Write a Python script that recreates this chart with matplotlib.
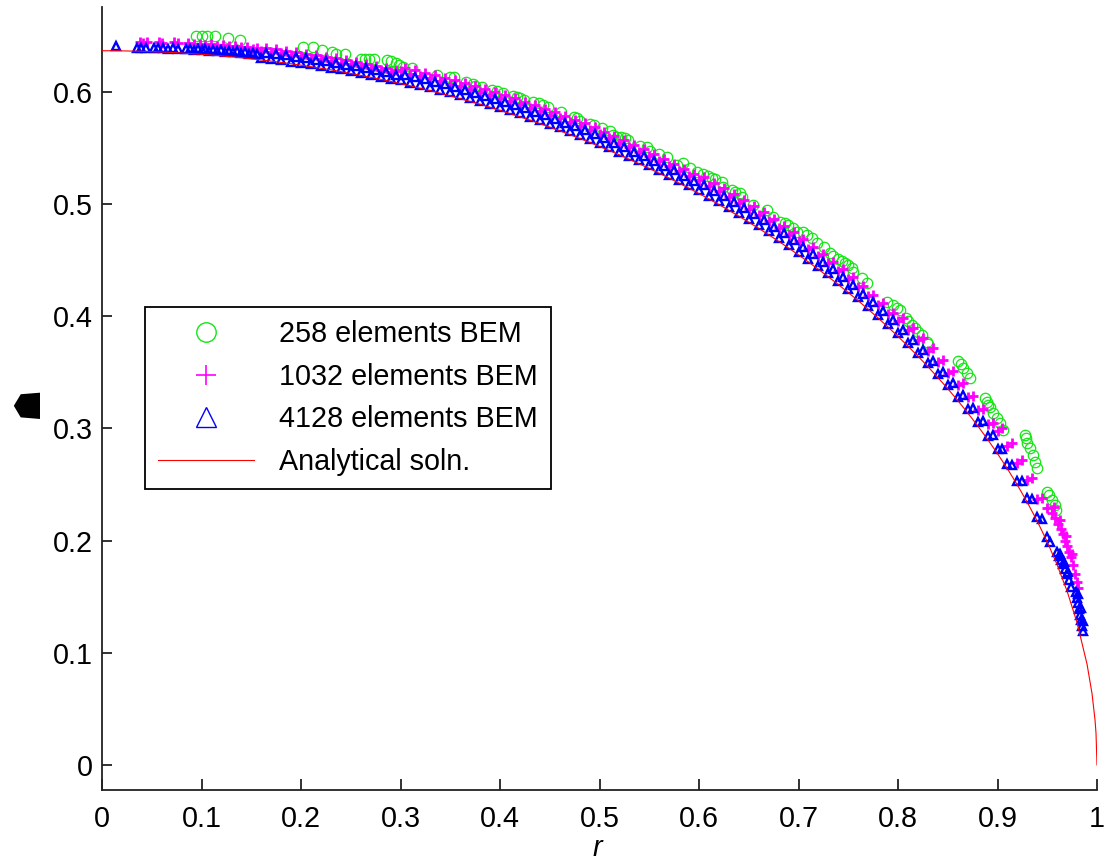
import matplotlib
matplotlib.use("Agg")
import matplotlib.pyplot as plt
from matplotlib.lines import Line2D

plt.rcParams['font.family'] = ['Liberation Sans', 'DejaVu Sans']

# ---------------- data ----------------
# analytical crack-opening profile
exact_r = [0.00, 0.01, 0.02, 0.03, 0.04, 0.05, 0.06, 0.07, 0.08, 0.09,
           0.10, 0.11, 0.12, 0.13, 0.14, 0.15, 0.16, 0.17, 0.18, 0.19,
           0.20, 0.21, 0.22, 0.23, 0.24, 0.25, 0.26, 0.27, 0.28, 0.29,
           0.30, 0.31, 0.32, 0.33, 0.34, 0.35, 0.36, 0.37, 0.38, 0.39,
           0.40, 0.41, 0.42, 0.43, 0.44, 0.45, 0.46, 0.47, 0.48, 0.49,
           0.50, 0.51, 0.52, 0.53, 0.54, 0.55, 0.56, 0.57, 0.58, 0.59,
           0.60, 0.61, 0.62, 0.63, 0.64, 0.65, 0.66, 0.67, 0.68, 0.69,
           0.70, 0.71, 0.72, 0.73, 0.74, 0.75, 0.76, 0.77, 0.78, 0.79,
           0.80, 0.81, 0.82, 0.83, 0.84, 0.85, 0.86, 0.87, 0.88, 0.89,
           0.90, 0.91, 0.92, 0.93, 0.94, 0.95, 0.96, 0.97, 0.98, 0.99,
           0.995, 0.998, 0.999, 1.0]
exact_y = [0.6366, 0.6366, 0.6365, 0.6363, 0.6361, 0.6358, 0.6355, 0.6351, 0.6346, 0.6340,
           0.6334, 0.6328, 0.6320, 0.6312, 0.6304, 0.6294, 0.6284, 0.6274, 0.6262, 0.6250,
           0.6238, 0.6224, 0.6210, 0.6196, 0.6180, 0.6164, 0.6147, 0.6130, 0.6112, 0.6093,
           0.6073, 0.6053, 0.6031, 0.6010, 0.5987, 0.5964, 0.5939, 0.5914, 0.5889, 0.5862,
           0.5835, 0.5806, 0.5777, 0.5748, 0.5717, 0.5685, 0.5653, 0.5619, 0.5585, 0.5550,
           0.5513, 0.5476, 0.5438, 0.5398, 0.5358, 0.5317, 0.5274, 0.5231, 0.5186, 0.5140,
           0.5093, 0.5045, 0.4995, 0.4944, 0.4892, 0.4838, 0.4783, 0.4726, 0.4668, 0.4608,
           0.4546, 0.4483, 0.4418, 0.4351, 0.4282, 0.4211, 0.4138, 0.4062, 0.3984, 0.3903,
           0.3820, 0.3733, 0.3644, 0.3551, 0.3454, 0.3354, 0.3249, 0.3139, 0.3024, 0.2903,
           0.2775, 0.2640, 0.2495, 0.2340, 0.2172, 0.1988, 0.1783, 0.1548, 0.1267, 0.0898,
           0.0636, 0.0402, 0.0285, 0.0]

# 258 elements BEM
green_r = [0.0945, 0.1002, 0.1052, 0.1136, 0.1269, 0.1387,
           0.2023, 0.2124, 0.2211, 0.2308, 0.2352, 0.2446, 0.2603, 0.2643, 0.2683, 0.2734,
           0.2868, 0.2901, 0.2955, 0.2988, 0.3028, 0.3119, 0.3364, 0.3497, 0.3538, 0.3655,
           0.3725, 0.3752, 0.3816, 0.3920, 0.3967, 0.4027, 0.4127, 0.4168, 0.4201, 0.4244,
           0.4329, 0.4395, 0.4429, 0.4486, 0.4610, 0.4744, 0.4771, 0.4804, 0.4905, 0.4945,
           0.5022, 0.5106, 0.5132, 0.5172, 0.5213, 0.5256, 0.5290, 0.5407, 0.5474, 0.5508,
           0.5601, 0.5675, 0.5776, 0.5842, 0.5910, 0.5977, 0.6043, 0.6094, 0.6127, 0.6161,
           0.6228, 0.6245, 0.6329, 0.6362, 0.6412, 0.6429, 0.6540, 0.6680, 0.6747, 0.6814,
           0.6864, 0.6898, 0.6948, 0.6982, 0.7048, 0.7082, 0.7133, 0.7183, 0.7256, 0.7317,
           0.7350, 0.7400, 0.7434, 0.7467, 0.7500, 0.7534, 0.7551, 0.7635, 0.7685, 0.7893,
           0.7953, 0.7987, 0.8020, 0.8080, 0.8104, 0.8138, 0.8171, 0.8204, 0.8238, 0.8288,
           0.8305, 0.8606, 0.8630, 0.8656, 0.8690, 0.8724, 0.8874, 0.8891, 0.8908, 0.8925,
           0.8958, 0.8992, 0.9025, 0.9052, 0.9276, 0.9286, 0.9300, 0.9327, 0.9353, 0.9377,
           0.9400, 0.9494, 0.9521, 0.9545, 0.9578, 0.9588]
green_y = [0.6497, 0.6497, 0.6497, 0.6497, 0.6476, 0.6458,
           0.6399, 0.6399, 0.6375, 0.6358, 0.6337, 0.6337, 0.6295, 0.6295, 0.6295, 0.6295,
           0.6281, 0.6272, 0.6254, 0.6239, 0.6224, 0.6209, 0.6150, 0.6135, 0.6132, 0.6090,
           0.6070, 0.6052, 0.6040, 0.6012, 0.6004, 0.5986, 0.5963, 0.5951, 0.5945, 0.5927,
           0.5912, 0.5897, 0.5885, 0.5867, 0.5823, 0.5773, 0.5764, 0.5743, 0.5713, 0.5701,
           0.5680, 0.5654, 0.5615, 0.5600, 0.5600, 0.5588, 0.5570, 0.5520, 0.5511, 0.5475,
           0.5446, 0.5422, 0.5348, 0.5362, 0.5318, 0.5288, 0.5267, 0.5250, 0.5229, 0.5220,
           0.5199, 0.5155, 0.5125, 0.5110, 0.5095, 0.5065, 0.4991, 0.4947, 0.4881, 0.4842,
           0.4828, 0.4813, 0.4783, 0.4753, 0.4753, 0.4724, 0.4694, 0.4650, 0.4620, 0.4560,
           0.4537, 0.4507, 0.4495, 0.4471, 0.4456, 0.4427, 0.4397, 0.4338, 0.4293, 0.4129,
           0.4100, 0.4070, 0.4055, 0.3981, 0.3960, 0.3922, 0.3892, 0.3862, 0.3832, 0.3773,
           0.3752, 0.3603, 0.3574, 0.3535, 0.3490, 0.3446, 0.3268, 0.3238, 0.3209, 0.3188,
           0.3135, 0.3090, 0.3046, 0.2986, 0.2941, 0.2912, 0.2867, 0.2823, 0.2763, 0.2703,
           0.2644, 0.2436, 0.2406, 0.2362, 0.2317, 0.2273]

# element-centre radii shared by the two finer meshes
band_r = [0.160, 0.165, 0.170, 0.175, 0.180, 0.185, 0.190, 0.195, 0.200, 0.205,
          0.210, 0.215, 0.220, 0.225, 0.230, 0.235, 0.240, 0.245, 0.250, 0.255,
          0.260, 0.265, 0.270, 0.275, 0.280, 0.285, 0.290, 0.295, 0.300, 0.305,
          0.310, 0.315, 0.320, 0.325, 0.330, 0.335, 0.340, 0.345, 0.350, 0.355,
          0.360, 0.365, 0.370, 0.375, 0.380, 0.385, 0.390, 0.395, 0.400, 0.405,
          0.410, 0.415, 0.420, 0.425, 0.430, 0.435, 0.440, 0.445, 0.450, 0.455,
          0.460, 0.465, 0.470, 0.475, 0.480, 0.485, 0.490, 0.495, 0.500, 0.505,
          0.510, 0.515, 0.520, 0.525, 0.530, 0.535, 0.540, 0.545, 0.550, 0.555,
          0.560, 0.565, 0.570, 0.575, 0.580, 0.585, 0.590, 0.595, 0.600, 0.605,
          0.610, 0.615, 0.620, 0.625, 0.630, 0.635, 0.640, 0.645, 0.650, 0.655,
          0.660, 0.665, 0.670, 0.675, 0.680, 0.685, 0.690, 0.695, 0.700, 0.705,
          0.710, 0.715, 0.720, 0.725, 0.730, 0.735, 0.740, 0.745, 0.750, 0.755,
          0.760, 0.765, 0.770, 0.775, 0.780, 0.785, 0.790, 0.795, 0.800, 0.805,
          0.810, 0.815, 0.820, 0.825, 0.830, 0.835, 0.840, 0.845, 0.850, 0.855,
          0.860, 0.865, 0.870, 0.875, 0.880, 0.885, 0.890, 0.895, 0.900, 0.905,
          0.910, 0.915, 0.920, 0.925, 0.930, 0.935, 0.940, 0.945, 0.950]

# 1032 elements BEM
mag_inner_r = [0.038, 0.041, 0.045, 0.057, 0.060, 0.072, 0.076, 0.086, 0.092, 0.098,
               0.104, 0.110, 0.116, 0.122, 0.128, 0.134, 0.140, 0.146, 0.152, 0.156]
mag_inner_y = [0.6446, 0.6438, 0.6442, 0.6446, 0.6434, 0.6440, 0.6436, 0.6432, 0.6426, 0.6430,
               0.6420, 0.6424, 0.6412, 0.6418, 0.6404, 0.6410, 0.6396, 0.6402, 0.6386, 0.6394]
mag_band_y = [0.6364, 0.6389, 0.6354, 0.6378, 0.6342, 0.6366, 0.6330, 0.6354, 0.6318, 0.6341,
              0.6304, 0.6327, 0.6290, 0.6313, 0.6276, 0.6298, 0.6260, 0.6282, 0.6244, 0.6266,
              0.6227, 0.6249, 0.6210, 0.6231, 0.6192, 0.6213, 0.6173, 0.6193, 0.6183, 0.6213,
              0.6163, 0.6192, 0.6141, 0.6171, 0.6120, 0.6149, 0.6097, 0.6126, 0.6074, 0.6102,
              0.6049, 0.6077, 0.6024, 0.6052, 0.5999, 0.6026, 0.5972, 0.5999, 0.5945, 0.5971,
              0.5916, 0.5942, 0.5887, 0.5913, 0.5858, 0.5883, 0.5827, 0.5851, 0.5795, 0.5819,
              0.5763, 0.5786, 0.5729, 0.5752, 0.5695, 0.5718, 0.5660, 0.5682, 0.5623, 0.5645,
              0.5586, 0.5607, 0.5548, 0.5568, 0.5508, 0.5528, 0.5468, 0.5488, 0.5427, 0.5446,
              0.5384, 0.5403, 0.5341, 0.5359, 0.5296, 0.5313, 0.5250, 0.5267, 0.5213, 0.5239,
              0.5165, 0.5190, 0.5115, 0.5140, 0.5064, 0.5088, 0.5012, 0.5035, 0.4958, 0.4981,
              0.4903, 0.4925, 0.4846, 0.4867, 0.4788, 0.4808, 0.4728, 0.4747, 0.4666, 0.4685,
              0.4603, 0.4621, 0.4538, 0.4555, 0.4471, 0.4487, 0.4402, 0.4417, 0.4331, 0.4345,
              0.4258, 0.4270, 0.4182, 0.4193, 0.4104, 0.4114, 0.4023, 0.4032, 0.3960, 0.3987,
              0.3873, 0.3899, 0.3784, 0.3808, 0.3691, 0.3713, 0.3594, 0.3614, 0.3494, 0.3512,
              0.3389, 0.3404, 0.3279, 0.3292, 0.3164, 0.3174, 0.3043, 0.3050, 0.2975, 0.3008,
              0.2840, 0.2868, 0.2695, 0.2718, 0.2540, 0.2557, 0.2372, 0.2382, 0.2288]
mag_tail_r = [0.955, 0.957, 0.958, 0.961, 0.963, 0.964, 0.966, 0.968, 0.969, 0.970,
              0.972, 0.974, 0.975, 0.976, 0.978, 0.980, 0.981]
mag_tail_y = [0.2250, 0.2300, 0.2200, 0.2150, 0.2180, 0.2100, 0.2060, 0.2000, 0.2040, 0.1950,
              0.1900, 0.1850, 0.1880, 0.1780, 0.1700, 0.1630, 0.1580]

# 4128 elements BEM
blue_inner_r = [0.014, 0.035, 0.039, 0.044, 0.052, 0.056, 0.061, 0.066, 0.071, 0.076,
                0.084, 0.088, 0.092, 0.096, 0.100, 0.104, 0.108, 0.112, 0.116, 0.120,
                0.124, 0.128, 0.132, 0.136, 0.140, 0.144, 0.148, 0.152, 0.156]
blue_inner_y = [0.6405, 0.6395, 0.6390, 0.6395, 0.6392, 0.6388, 0.6392, 0.6386, 0.6390, 0.6385,
                0.6380, 0.6385, 0.6376, 0.6382, 0.6372, 0.6378, 0.6368, 0.6374, 0.6364, 0.6370,
                0.6358, 0.6364, 0.6352, 0.6360, 0.6346, 0.6354, 0.6340, 0.6348, 0.6334]
blue_band_y = [0.6304, 0.6349, 0.6294, 0.6338, 0.6282, 0.6326, 0.6270, 0.6314, 0.6258, 0.6301,
               0.6244, 0.6287, 0.6230, 0.6273, 0.6216, 0.6258, 0.6200, 0.6242, 0.6184, 0.6226,
               0.6167, 0.6209, 0.6150, 0.6191, 0.6132, 0.6173, 0.6113, 0.6153, 0.6103, 0.6153,
               0.6083, 0.6132, 0.6061, 0.6111, 0.6040, 0.6089, 0.6017, 0.6066, 0.5994, 0.6042,
               0.5969, 0.6017, 0.5944, 0.5992, 0.5919, 0.5966, 0.5892, 0.5939, 0.5865, 0.5911,
               0.5836, 0.5882, 0.5807, 0.5853, 0.5778, 0.5823, 0.5747, 0.5791, 0.5715, 0.5759,
               0.5683, 0.5726, 0.5649, 0.5692, 0.5615, 0.5658, 0.5580, 0.5622, 0.5543, 0.5585,
               0.5506, 0.5547, 0.5468, 0.5508, 0.5428, 0.5468, 0.5388, 0.5428, 0.5347, 0.5386,
               0.5304, 0.5343, 0.5261, 0.5299, 0.5216, 0.5253, 0.5170, 0.5207, 0.5123, 0.5169,
               0.5075, 0.5120, 0.5025, 0.5070, 0.4974, 0.5018, 0.4922, 0.4965, 0.4868, 0.4911,
               0.4813, 0.4855, 0.4756, 0.4797, 0.4698, 0.4738, 0.4638, 0.4677, 0.4576, 0.4615,
               0.4513, 0.4551, 0.4448, 0.4485, 0.4381, 0.4417, 0.4312, 0.4347, 0.4241, 0.4275,
               0.4168, 0.4200, 0.4092, 0.4123, 0.4014, 0.4044, 0.3933, 0.3962, 0.3850, 0.3877,
               0.3763, 0.3789, 0.3674, 0.3698, 0.3581, 0.3603, 0.3484, 0.3504, 0.3384, 0.3402,
               0.3279, 0.3294, 0.3169, 0.3182, 0.3054, 0.3064, 0.2933, 0.2940, 0.2815, 0.2818,
               0.2680, 0.2678, 0.2535, 0.2528, 0.2380, 0.2367, 0.2212, 0.2192, 0.2028]
blue_tail_r = [0.953, 0.960, 0.962, 0.963, 0.964, 0.966, 0.967, 0.968, 0.970, 0.971,
               0.972, 0.974, 0.979, 0.980, 0.9805, 0.981, 0.982, 0.983, 0.9835, 0.984,
               0.985, 0.9855, 0.986]
blue_tail_y = [0.1990, 0.1900, 0.1860, 0.1880, 0.1830, 0.1790, 0.1810, 0.1750, 0.1700, 0.1720,
               0.1650, 0.1590, 0.1540, 0.1490, 0.1520, 0.1440, 0.1390, 0.1340, 0.1400, 0.1290,
               0.1240, 0.1280, 0.1190]

series_labels = ['258 elements BEM', '1032 elements BEM', '4128 elements BEM', 'Analytical soln.']
x_ticks = [0.0, 0.1, 0.2, 0.3, 0.4, 0.5, 0.6, 0.7, 0.8, 0.9, 1.0]
x_tick_labels = ['0', '0.1', '0.2', '0.3', '0.4', '0.5', '0.6', '0.7', '0.8', '0.9', '1']
y_ticks = [0.0, 0.1, 0.2, 0.3, 0.4, 0.5, 0.6]
y_tick_labels = ['0', '0.1', '0.2', '0.3', '0.4', '0.5', '0.6']

# ---------------- figure ----------------
W, H = 1105, 863
FS = 20.7
fig = plt.figure(figsize=(W / 100, H / 100), dpi=100)
ax = fig.add_axes([102 / W, (H - 790) / H, 995 / W, 783 / H])

GREEN = '#14e614'
MAGENTA = '#ff00ff'
BLUE = '#0000ff'
RED = '#ff0000'

mag_r = mag_inner_r + band_r + mag_tail_r
mag_y = mag_inner_y + mag_band_y + mag_tail_y
blue_r = blue_inner_r + band_r + blue_tail_r
blue_y = blue_inner_y + blue_band_y + blue_tail_y

ax.plot(green_r, green_y, linestyle='none', marker='o', ms=7.5, mfc='none',
        mec=GREEN, mew=0.9, zorder=2)
ax.plot(mag_r, mag_y, linestyle='none', marker='+', ms=7.5, mec=MAGENTA,
        mew=2.0, zorder=3)
ax.plot(blue_r, blue_y, linestyle='none', marker='^', ms=6.2, mfc='none',
        mec=BLUE, mew=1.7, zorder=4)
ax.plot(exact_r, exact_y, color=RED, lw=0.8, zorder=5)

ax.set_xlim(0, 1)
ax.set_ylim(-0.0223, 0.6756)
ax.set_xticks(x_ticks)
ax.set_xticklabels(x_tick_labels)
ax.set_yticks(y_ticks)
ax.set_yticklabels(y_tick_labels)

for side in ('top', 'right'):
    ax.spines[side].set_visible(False)
for side in ('left', 'bottom'):
    ax.spines[side].set_linewidth(1.3)
    ax.spines[side].set_color('#222222')

ax.tick_params(axis='x', direction='in', length=8, width=1.3, color='#222222',
               labelsize=FS, pad=11)
ax.tick_params(axis='y', direction='in', length=7, width=1.3, color='#222222',
               labelsize=FS, pad=6.5)

# axis labels
fig.text(597 / W, 1.5 / H, 'r', style='italic', fontsize=FS,
         ha='center', va='bottom')
fig.text(28 / W, 1 - 402 / H, '\u2617', fontsize=26, ha='center', va='center',
         rotation=90, family=['DejaVu Sans'])

# legend
handles = [
    Line2D([], [], linestyle='none', marker='o', ms=14, mfc='none', mec=GREEN, mew=1.0),
    Line2D([], [], linestyle='none', marker='+', ms=15, mec=MAGENTA, mew=1.2),
    Line2D([], [], linestyle='none', marker='^', ms=15, mfc='none', mec=BLUE, mew=1.0),
    Line2D([], [], color=RED, lw=0.8),
]
leg = ax.legend(handles, series_labels, loc='upper left',
                bbox_to_anchor=((145 - 102) / 995, (790 - 307) / 783),
                borderaxespad=0, fontsize=FS, frameon=True, fancybox=False,
                borderpad=0.45, labelspacing=0.51, handlelength=3.34,
                handletextpad=0.87, framealpha=1)
leg.get_frame().set_edgecolor('black')
leg.get_frame().set_linewidth(1.3)

fig.savefig('out.png', dpi=100)
